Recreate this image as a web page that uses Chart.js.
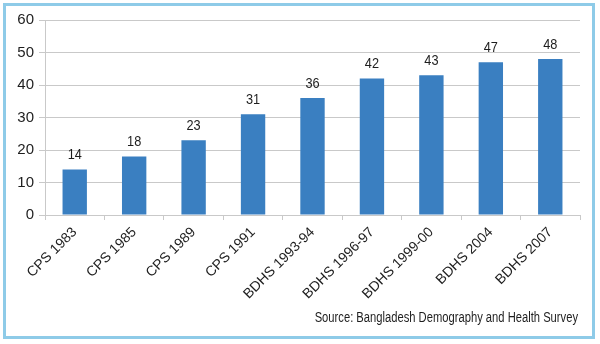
<!DOCTYPE html>
<html>
<head>
<meta charset="utf-8">
<script src="https://cdn.jsdelivr.net/npm/chart.js@4"></script>
<style>
  html, body { margin: 0; padding: 0; background: #fff; }
  #wrap { width: 600px; height: 344px; }
</style>
</head>
<body>
<div id="wrap"><canvas id="chart" width="600" height="344"></canvas></div>
<script>
// survey rounds and their values
const surveys = ['CPS 1983', 'CPS 1985', 'CPS 1989', 'CPS 1991', 'BDHS 1993-94',
  'BDHS 1996-97', 'BDHS 1999-00', 'BDHS 2004', 'BDHS 2007'];
const values = [14, 18, 23, 31, 36, 42, 43, 47, 48];
const yTicks = [0, 10, 20, 30, 40, 50, 60];
const sourceNote = 'Source: Bangladesh Demography and Health Survey';

const FONT = '"Liberation Sans", Arial, sans-serif';
const TEXT = '#1e1e1e';
const GRID = '#c9c9c9';

// draws text squeezed horizontally to get a narrow face
function narrowText(ctx, text, x, y, squeeze) {
  ctx.save();
  ctx.translate(x, y);
  ctx.scale(squeeze, 1);
  ctx.fillText(text, 0, 0);
  ctx.restore();
}

// frame, value labels and source note
const decorations = {
  id: 'decorations',
  afterDatasetsDraw(chart) {
    const ctx = chart.ctx;
    const meta = chart.getDatasetMeta(0);
    ctx.save();
    ctx.fillStyle = TEXT;
    ctx.font = '15px ' + FONT;
    ctx.textAlign = 'center';
    ctx.textBaseline = 'bottom';
    meta.data.forEach((bar, i) => {
      narrowText(ctx, String(values[i]), bar.x, bar.y - 7, 0.85);
    });
    ctx.restore();
  },
  afterDraw(chart) {
    const ctx = chart.ctx;
    ctx.save();
    ctx.strokeStyle = '#8ecbe8';
    ctx.lineWidth = 3;
    ctx.strokeRect(4.5, 4.5, 589, 333);
    ctx.fillStyle = TEXT;
    ctx.font = '14px ' + FONT;
    ctx.textAlign = 'right';
    ctx.textBaseline = 'middle';
    narrowText(ctx, sourceNote, 578, 318, 0.8);
    ctx.restore();
  }
};

new Chart(document.getElementById('chart'), {
  type: 'bar',
  data: {
    labels: surveys,
    datasets: [{
      data: values,
      backgroundColor: '#3a7fc1',
      borderWidth: 0,
      categoryPercentage: 1,
      barPercentage: 0.41
    }]
  },
  options: {
    responsive: false,
    animation: false,
    layout: { padding: { left: 0, right: 20, top: 20, bottom: 0 } },
    plugins: { legend: { display: false }, tooltip: { enabled: false } },
    scales: {
      y: {
        min: 0,
        max: 60,
        afterFit(scale) { scale.width = 45; },
        afterBuildTicks(scale) { scale.ticks = yTicks.map(v => ({ value: v })); },
        grid: { color: GRID, tickLength: 6, drawTicks: true },
        border: { color: GRID },
        ticks: { color: TEXT, font: { family: FONT, size: 15 }, padding: 5 }
      },
      x: {
        afterFit(scale) { scale.height = 129; },
        grid: { drawOnChartArea: false, color: GRID, tickLength: 5, offset: true },
        border: { color: GRID },
        ticks: {
          color: TEXT,
          font: { family: FONT, size: 14 },
          minRotation: 45,
          maxRotation: 45,
          padding: 4
        }
      }
    }
  },
  plugins: [decorations]
});
</script>
</body>
</html>
